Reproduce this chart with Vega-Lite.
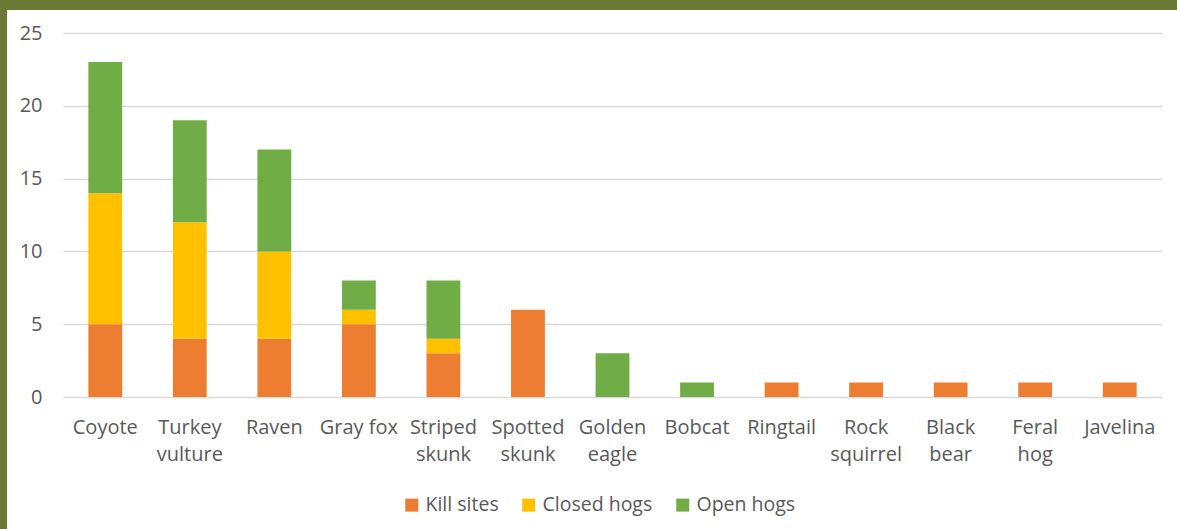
{
  "$schema": "https://vega.github.io/schema/vega-lite/v6.json",
  "background": "white",
  "padding": 0,
  "bounds": "flush",
  "spacing": 0,
  "resolve": {"legend": {"color": "independent"}},
  "config": {
    "view": {"stroke": null},
    "font": "Open Sans",
    "axis": {"labelFont": "Open Sans", "labelColor": "#595959", "labelFontSize": 20},
    "legend": {"labelFont": "Open Sans", "labelColor": "#595959", "labelFontSize": 19.5}
  },
  "vconcat": [
    {
      "width": 1177,
      "height": 10,
      "view": {"fill": "#6B7B35", "stroke": null},
      "data": {"values": []},
      "mark": "rect",
      "encoding": {}
    },
    {
      "bounds": "flush",
      "spacing": 56,
      "resolve": {"legend": {"color": "independent"}},
      "hconcat": [
        {
          "width": 7,
          "height": 519,
          "view": {"fill": "#6B7B35", "stroke": null},
          "data": {"values": []},
          "mark": "rect",
          "encoding": {}
        },
        {
          "width": 1099,
          "height": 387,
          "data": {
            "values": [
              {"animal": "Coyote", "type": "Kill sites", "count": 5},
              {"animal": "Coyote", "type": "Closed hogs", "count": 9},
              {"animal": "Coyote", "type": "Open hogs", "count": 9},
              {"animal": "Turkey vulture", "type": "Kill sites", "count": 4},
              {"animal": "Turkey vulture", "type": "Closed hogs", "count": 8},
              {"animal": "Turkey vulture", "type": "Open hogs", "count": 7},
              {"animal": "Raven", "type": "Kill sites", "count": 4},
              {"animal": "Raven", "type": "Closed hogs", "count": 6},
              {"animal": "Raven", "type": "Open hogs", "count": 7},
              {"animal": "Gray fox", "type": "Kill sites", "count": 5},
              {"animal": "Gray fox", "type": "Closed hogs", "count": 1},
              {"animal": "Gray fox", "type": "Open hogs", "count": 2},
              {"animal": "Striped skunk", "type": "Kill sites", "count": 3},
              {"animal": "Striped skunk", "type": "Closed hogs", "count": 1},
              {"animal": "Striped skunk", "type": "Open hogs", "count": 4},
              {"animal": "Spotted skunk", "type": "Kill sites", "count": 6},
              {"animal": "Golden eagle", "type": "Open hogs", "count": 3},
              {"animal": "Bobcat", "type": "Open hogs", "count": 1},
              {"animal": "Ringtail", "type": "Kill sites", "count": 1},
              {"animal": "Rock squirrel", "type": "Kill sites", "count": 1},
              {"animal": "Black bear", "type": "Kill sites", "count": 1},
              {"animal": "Feral hog", "type": "Kill sites", "count": 1},
              {"animal": "Javelina", "type": "Kill sites", "count": 1}
            ]
          },
          "transform": [
            {"calculate": "indexof(['Kill sites', 'Closed hogs', 'Open hogs'], datum.type)", "as": "stackOrder"}
          ],
          "mark": {"type": "bar"},
          "encoding": {
            "x": {
              "field": "animal",
              "type": "nominal",
              "sort": ["Coyote", "Turkey vulture", "Raven", "Gray fox", "Striped skunk", "Spotted skunk", "Golden eagle", "Bobcat", "Ringtail", "Rock squirrel", "Black bear", "Feral hog", "Javelina"],
              "scale": {"paddingInner": 0.6, "paddingOuter": 0.3},
              "axis": {
                "title": null,
                "labelAngle": 0,
                "domain": false,
                "ticks": false,
                "labelPadding": 20,
                "labelLineHeight": 27,
                "labelExpr": "datum.label == 'Gray fox' ? datum.label : split(datum.label, ' ')"
              }
            },
            "y": {
              "field": "count",
              "type": "quantitative",
              "stack": "zero",
              "scale": {"domain": [0, 26.58], "nice": false},
              "axis": {
                "title": null,
                "values": [0, 5, 10, 15, 20, 25],
                "domain": false,
                "ticks": false,
                "labelPadding": 21,
                "gridColor": "#D9D9D9",
                "gridWidth": 1.5
              }
            },
            "color": {
              "field": "type",
              "type": "nominal",
              "sort": ["Kill sites", "Closed hogs", "Open hogs"],
              "scale": {
                "domain": ["Kill sites", "Closed hogs", "Open hogs"],
                "range": ["#ED7D31", "#FFC000", "#70AD47"]
              },
              "legend": {
                "title": null,
                "orient": "none",
                "legendX": 339,
                "legendY": 485,
                "direction": "horizontal",
                "symbolType": "square",
                "symbolSize": 169,
                "symbolOpacity": 1,
                "symbolStrokeWidth": 0,
                "labelOffset": 4,
                "columnPadding": 20
              }
            },
            "order": {"field": "stackOrder", "type": "quantitative", "sort": "ascending"}
          }
        }
      ]
    }
  ]
}
